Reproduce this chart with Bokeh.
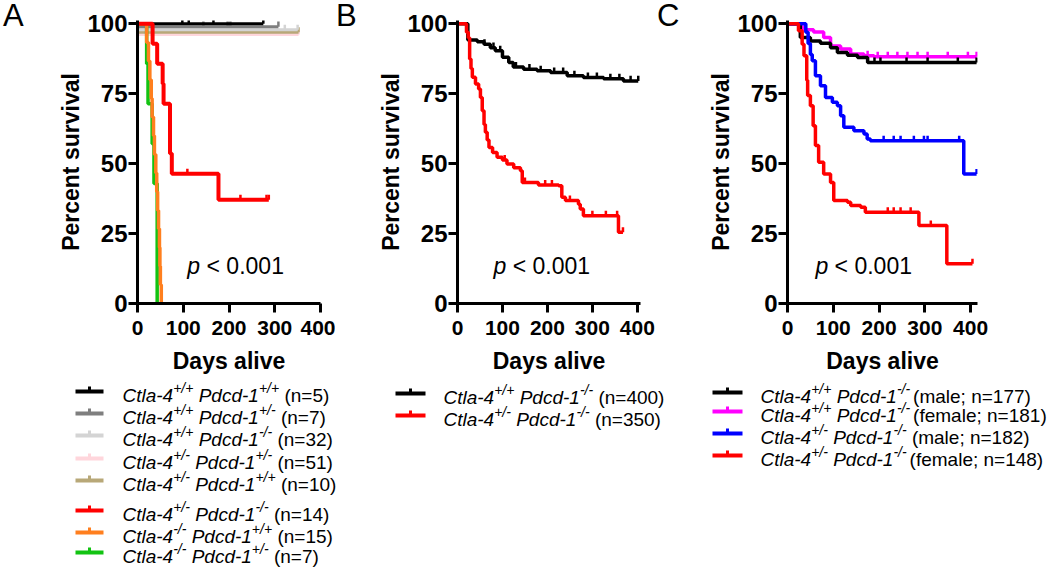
import numpy as np
from bokeh.plotting import figure
from bokeh.layouts import row, column
from bokeh.models import Range1d, Label, FixedTicker, Div
from bokeh.embed import file_html
from bokeh.resources import INLINE
from bokeh.core.properties import value

FONT = "Liberation Sans"

# ---------------- Panel A data (days, percent survival) ----------------
A_black_days = [0, 275]
A_black_surv = [100, 100]
A_black_cens = [98, 112, 166, 275]
A_dgrey_days = [0, 1, 308]
A_dgrey_surv = [100, 99.0, 99.0]
A_dgrey_cens = [144, 197, 203, 308]
A_lgrey_days = [0, 1, 350]
A_lgrey_surv = [100, 97.9, 97.9]
A_lgrey_cens = [322, 350]
A_pink_days = [0, 1, 352]
A_pink_surv = [100, 96.2, 96.2]
A_pink_cens = [352]
A_khaki_days = [0, 1, 352]
A_khaki_surv = [100, 97.0, 97.0]
A_khaki_cens = [352]
A_red_days = [0, 33, 43, 55, 57, 71, 75, 177, 287]
A_red_surv = [100, 92.9, 85.7, 78.6, 71.4, 53.6, 46.4, 37.1, 37.1]
A_red_cens = [109, 225, 282, 287]
A_orange_days = [0, 20, 24, 27, 30, 32, 35, 37, 40, 42, 44, 46, 48, 49, 50, 52]
A_orange_surv = [100, 93.3, 86.7, 80.0, 73.3, 66.7, 60.0, 53.3, 46.7, 40.0, 33.3, 26.7, 20.0, 13.3, 6.7, 0]
A_green_days = [0, 20, 23, 32, 36, 43]
A_green_surv = [100, 85.7, 71.4, 57.1, 42.9, 0]

A_ctla = ["+/+", "+/+", "+/+", "+/-", "+/-", "+/-", "-/-", "-/-"]
A_pdcd = ["+/+", "+/-", "-/-", "+/-", "+/+", "-/-", "+/+", "+/-"]
A_n = [5, 7, 32, 51, 10, 14, 15, 7]
A_colors = ["#000000", "#7f7f7f", "#d4d4d4", "#ffd6dc", "#b8a878", "#ff0000", "#ff7f1e", "#12c312"]

# ---------------- Panel B data ----------------
B_black_days = [0, 23, 44, 59, 73, 84, 100, 114, 124, 147, 177, 207, 244, 280, 325, 369, 402]
B_black_surv = [100, 94.2, 93.6, 92.7, 91.5, 90.4, 88.1, 86.2, 84.6, 83.8, 83.2, 82.6, 81.4, 80.8, 80.4, 79.6, 79.6]
B_black_cens = [60, 80, 95, 130, 160, 185, 215, 235, 260, 290, 310, 340, 360, 385, 402]
B_red_days = [0, 20, 24, 27, 30, 33, 40, 47, 51, 55, 59, 62, 66, 70, 78, 88, 100, 110, 125, 140, 144,
              180, 225, 232, 240, 269, 273, 280, 358, 368]
B_red_surv = [100, 97, 95, 87.4, 84, 80.9, 78.5, 76.7, 73.7, 68.9, 64, 61.2, 58.5, 55.8, 54, 52.3, 51.3,
              49.9, 48.5, 47.5, 43.3, 42.4, 42.1, 38, 36.8, 35.5, 33.8, 31.4, 25.5, 25.5]
B_red_cens = [105, 150, 195, 210, 250, 300, 330, 355, 368]
B_ctla = ["+/+", "+/-"]
B_pdcd = ["-/-", "-/-"]
B_n = [400, 350]
B_colors = ["#000000", "#ff0000"]

# ---------------- Panel C data ----------------
C_black_days = [0, 28, 50, 72, 94, 109, 131, 153, 175, 413]
C_black_surv = [100, 95.1, 93.9, 93.1, 91.5, 89.8, 88.8, 88.0, 86.2, 86.2]
C_black_cens = [190, 203, 260, 306, 372, 413]
C_mag_days = [0, 28, 35, 57, 79, 94, 116, 138, 167, 189, 413]
C_mag_surv = [100, 98.9, 97.9, 97.1, 95.1, 92.1, 91.0, 89.2, 88.6, 88.2, 88.2]
C_mag_cens = [175, 197, 219, 240, 262, 284, 306, 350, 394, 413]
C_blue_days = [0, 40, 45, 50, 54, 61, 72, 83, 98, 109, 116, 123, 145, 167, 174, 181, 385, 413]
C_blue_surv = [100, 97, 93, 89, 86.8, 81.4, 77.9, 73.7, 72, 70.7, 67.1, 63, 61.8, 60.6, 58.8, 58.2, 46.3, 46.3]
C_blue_cens = [210, 232, 247, 276, 298, 306, 375, 413]
C_red_days = [0, 24, 32, 36, 42, 44, 50, 56, 61, 68, 79, 94, 101, 131, 138, 160, 170, 287, 348, 404]
C_red_surv = [100, 97.5, 92.7, 88.6, 79.8, 74.4, 70.7, 63.6, 56.5, 50.5, 46.3, 43.3, 36.8, 36.2, 35,
              34.4, 32.6, 27.9, 14.2, 14.2]
C_red_cens = [219, 232, 247, 269, 313, 404]
C_ctla = ["+/+", "+/+", "+/-", "+/-"]
C_pdcd = ["-/-", "-/-", "-/-", "-/-"]
C_sex = ["male", "female", "male", "female"]
C_n = [177, 181, 182, 148]
C_colors = ["#000000", "#ff00ff", "#0000ff", "#ff0000"]

X_TICKS = [0, 100, 200, 300, 400]
Y_TICKS = [0, 25, 50, 75, 100]
PANEL_LETTERS = ["A", "B", "C"]

# ---------------- helpers ----------------
AW = {' ': 278, '(': 333, ')': 333, '+': 584, '-': 333, '/': 278, '=': 584, ';': 278, '<': 584,
      '.': 278, 'C': 722, 'P': 667, 'a': 556, 'c': 500, 'd': 556, 'e': 556, 'f': 278, 'l': 222,
      'm': 833, 'n': 556, 't': 278, 'p': 556}
for ch in "0123456789":
    AW[ch] = 556


def tw(s, size):
    return sum(AW.get(c, 556) for c in s) / 1000.0 * size


FH = 283
YEND = 101.2
TOP_H = 380


def make_chart(xend, fw, left, right, top):
    bottom = TOP_H - top - FH
    p = figure(title=None, frame_width=fw, frame_height=FH, x_range=Range1d(0, xend),
               y_range=Range1d(0, YEND), min_border_left=left, min_border_right=right,
               min_border_top=top, min_border_bottom=bottom, toolbar_location=None,
               output_backend="svg")
    p.outline_line_color = None
    p.grid.visible = False
    p.xaxis.ticker = FixedTicker(ticks=X_TICKS)
    p.yaxis.ticker = FixedTicker(ticks=Y_TICKS)
    p.xaxis.axis_label = "Days alive"
    p.yaxis.axis_label = "Percent survival"
    for ax in p.axis:
        ax.axis_line_width = 3
        ax.axis_line_color = "black"
        ax.major_tick_line_width = 3
        ax.major_tick_line_color = "black"
        ax.major_tick_out = 9
        ax.major_tick_in = 0
        ax.minor_tick_line_color = None
        ax.major_label_text_font = FONT
        ax.major_label_text_font_style = "bold"
        ax.major_label_text_color = "black"
        ax.axis_label_text_font = FONT
        ax.axis_label_text_font_style = "bold"
        ax.axis_label_text_font_size = "23px"
        ax.axis_label_text_color = "black"
    p.xaxis.major_label_text_font_size = "21px"
    p.yaxis.major_label_text_font_size = "24px"
    p.xaxis.major_label_standoff = 8
    p.yaxis.major_label_standoff = 1
    p.xaxis.axis_label_standoff = 10
    p.yaxis.axis_label_standoff = 0
    return p


def curve(p, days, surv, color, cens=None, lw=3.5):
    p.step(x=days, y=surv, mode="after", line_width=lw, line_color=color)
    if cens:
        d = np.asarray(days, dtype=float)
        s = np.asarray(surv, dtype=float)
        idx = np.searchsorted(d, np.asarray(cens, dtype=float), side="right") - 1
        cy = s[idx]
        p.segment(x0=cens, y0=cy, x1=cens, y1=cy + 1.8, line_width=2.5, line_color=color)


def pvalue(p, x, y):
    p.add_layout(Label(x=x, y=y, text="p", text_font=FONT, text_font_style="italic",
                       text_font_size="23px", text_baseline="middle", text_align="left",
                       text_color="black"))
    p.add_layout(Label(x=x, y=y, x_offset=tw("p ", 23), text="< 0.001", text_font=FONT,
                       text_font_size="23px", text_baseline="middle", text_align="left",
                       text_color="black"))


def blank_fig(width, height):
    p = figure(title=None, width=width, height=height, x_range=Range1d(0, width),
               y_range=Range1d(height, 0), x_axis_type=None, y_axis_type=None,
               min_border=0, toolbar_location=None, output_backend="svg")
    p.outline_line_color = None
    p.grid.visible = False
    return p


def letter_div(width, text, pad):
    return Div(text=text, width=width, height=TOP_H,
               styles={"font-family": "'Liberation Sans', Arial, sans-serif", "font-size": "31px",
                       "line-height": "31px", "color": "black", "padding-left": "%dpx" % pad,
                       "margin": "0px", "box-sizing": "border-box", "align-self": "flex-start"})


# ---------------- charts ----------------
pA = make_chart(400, 183, 97, 15, 20)
curve(pA, A_pink_days, A_pink_surv, A_colors[3], A_pink_cens, 3)
curve(pA, A_khaki_days, A_khaki_surv, A_colors[4], A_khaki_cens, 3)
curve(pA, A_lgrey_days, A_lgrey_surv, A_colors[2], A_lgrey_cens, 3)
curve(pA, A_dgrey_days, A_dgrey_surv, A_colors[1], A_dgrey_cens, 3)
curve(pA, A_black_days, A_black_surv, A_colors[0], A_black_cens, 3)
curve(pA, A_green_days, A_green_surv, A_colors[7], None, 3.5)
curve(pA, A_orange_days, A_orange_surv, A_colors[6], None, 3.5)
curve(pA, A_red_days, A_red_surv, A_colors[5], A_red_cens, 4)
pvalue(pA, 109, 13.4)

pB = make_chart(407, 183, 95, 15, 20)
curve(pB, B_black_days, B_black_surv, B_colors[0], B_black_cens)
curve(pB, B_red_days, B_red_surv, B_colors[1], B_red_cens)
pvalue(pB, 80, 13.4)

pC = make_chart(415, 190, 99, 73, 15)
curve(pC, C_mag_days, C_mag_surv, C_colors[1], C_mag_cens)
curve(pC, C_black_days, C_black_surv, C_colors[0], C_black_cens)
curve(pC, C_blue_days, C_blue_surv, C_colors[2], C_blue_cens)
curve(pC, C_red_days, C_red_surv, C_colors[3], C_red_cens)
pvalue(pC, 61, 13.3)

lA = letter_div(40, PANEL_LETTERS[0], 3)
lB = letter_div(27, PANEL_LETTERS[1], 1)
lC = letter_div(33, PANEL_LETTERS[2], 2)

# ---------------- legends ----------------
LEG_H = 567 - TOP_H


def make_legend(width, rows, colors, ctla, pdcd, suffixes, gaps, x0, x1, xt, size, supsize):
    p = blank_fig(width, LEG_H)
    mx, my, mt = [], [], []
    sx, sy, st = [], [], []
    nx, ny, nt = [], [], []
    for i, yc in enumerate(rows):
        p.line(x=[x0, x1], y=[yc, yc], line_width=4, line_color=colors[i])
        xm = (x0 + x1) / 2.0
        p.line(x=[xm, xm], y=[yc, yc - 5], line_width=3, line_color=colors[i])
        mid = yc + 3.5
        smid = yc - 3.5
        x = xt
        mx.append(x); my.append(mid); mt.append("Ctla-4")
        x += tw("Ctla-4", size)
        sx.append(x); sy.append(smid); st.append(ctla[i])
        x += tw(ctla[i], supsize) + tw(" ", size)
        mx.append(x); my.append(mid); mt.append("Pdcd-1")
        x += tw("Pdcd-1", size)
        sx.append(x); sy.append(smid); st.append(pdcd[i])
        x += tw(pdcd[i], supsize) + gaps[i]
        nx.append(x); ny.append(mid); nt.append(suffixes[i])
    common = dict(text_font=value(FONT), text_baseline="middle", text_align="left", text_color="black")
    p.text(x=mx, y=my, text=mt, text_font_size=value("%gpx" % size), text_font_style="italic", **common)
    p.text(x=sx, y=sy, text=st, text_font_size=value("%gpx" % supsize), text_font_style="italic", **common)
    p.text(x=nx, y=ny, text=nt, text_font_size=value("%gpx" % size), text_font_style="normal", **common)
    return p


A_suffix = ["(n=%d)" % n for n in A_n]
B_suffix = ["(n=%d)" % n for n in B_n]
C_suffix = ["(%s; n=%d)" % (s, n) for s, n in zip(C_sex, C_n)]

legA = make_legend(380, [11, 33, 55, 78, 100, 130, 152, 172], A_colors, A_ctla, A_pdcd, A_suffix,
                   [5.3] * 8, 75, 103, 122, 19, 14)
legB = make_legend(320, [13, 35], B_colors, B_ctla, B_pdcd, B_suffix, [5.3] * 2, 15, 45, 63, 19, 14)
legC = make_legend(350, [12, 31, 53, 75], C_colors, C_ctla, C_pdcd, C_suffix, [3, 3, 5.3, 3],
                   12, 42, 60, 19, 14)

layout = column(row(lA, pA, lB, pB, lC, pC), row(legA, legB, legC))

open("out.html", "w").write(file_html(layout, INLINE))
